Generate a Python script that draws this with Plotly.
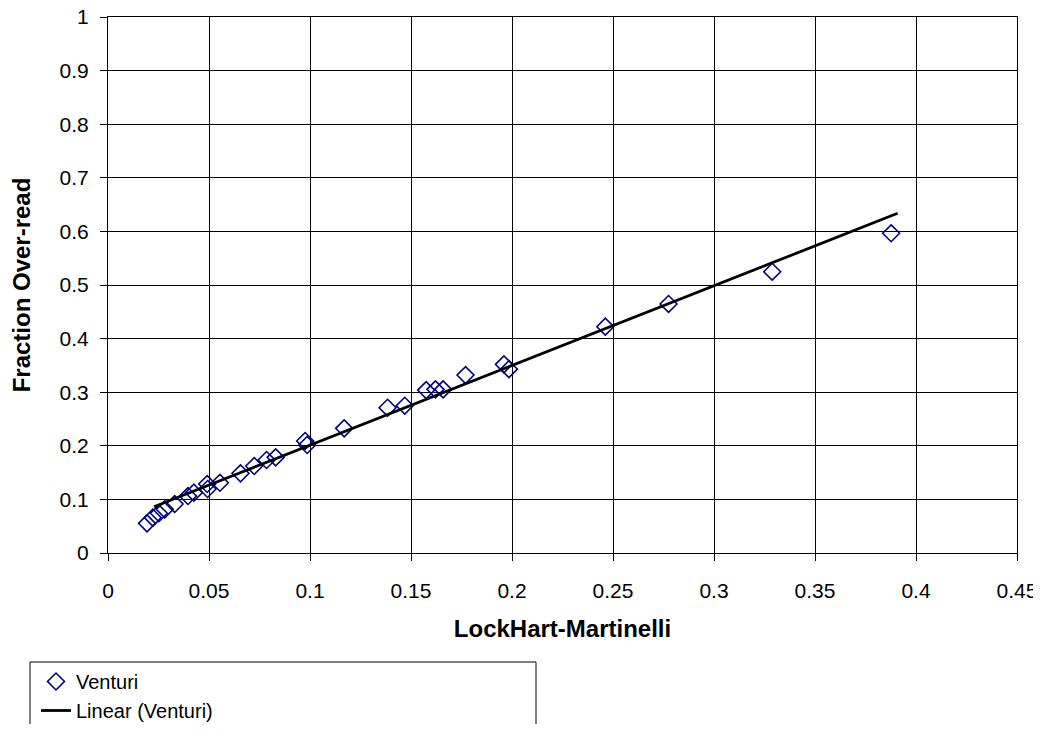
import plotly.graph_objects as go

# Data
lockhart_martinelli = [0.0193, 0.0222, 0.0252, 0.0281, 0.0330, 0.0396, 0.0425, 0.0491,
                       0.0493, 0.0554, 0.0656, 0.0724, 0.0785, 0.0830, 0.0976, 0.0986,
                       0.1169, 0.1384, 0.1469, 0.1575, 0.1621, 0.1659, 0.1770, 0.1960,
                       0.1985, 0.2462, 0.2775, 0.3288, 0.3877]
fraction_over_read = [0.0554, 0.0659, 0.0741, 0.0815, 0.0914, 0.1063, 0.1125, 0.1287,
                      0.1194, 0.1310, 0.1487, 0.1623, 0.1735, 0.1785, 0.2090, 0.2015,
                      0.2326, 0.2710, 0.2748, 0.3040, 0.3054, 0.3054, 0.3320, 0.3520,
                      0.3430, 0.4222, 0.4646, 0.5248, 0.5965]
# Linear trendline (as drawn in the reference)
trend_slope = 1.487
trend_intercept = 0.0525
trend_x = [0.0228, 0.3909]

x_ticks = [0, 0.05, 0.1, 0.15, 0.2, 0.25, 0.3, 0.35, 0.4, 0.45]
x_tick_labels = ["0", "0.05", "0.1", "0.15", "0.2", "0.25", "0.3", "0.35", "0.4", "0.45"]
y_ticks = [0, 0.1, 0.2, 0.3, 0.4, 0.5, 0.6, 0.7, 0.8, 0.9, 1]
y_tick_labels = ["0", "0.1", "0.2", "0.3", "0.4", "0.5", "0.6", "0.7", "0.8", "0.9", "1"]

trend_y = [trend_slope * v + trend_intercept for v in trend_x]

FONT = "Liberation Sans, Arial, sans-serif"

# page has an 8px body margin; figure coordinates = page coordinates - 8
W, H = 1032, 716
L, R, T, B = 100, 1009, 9, 545   # plot area in figure px
PW, PH = R - L, B - T

def px_x(page_x):
    return (page_x - 8 - L) / PW

def px_y(page_y):
    return (B - (page_y - 8)) / PH

def cont_y(page_y):
    return 1 - (page_y - 8) / H

fig = go.Figure()
fig.add_trace(go.Scatter(
    x=lockhart_martinelli, y=fraction_over_read, mode="markers", name="Venturi",
    marker=dict(symbol="diamond-open", size=13, color="#000080", line=dict(width=1.6, color="#000080")),
))
fig.add_trace(go.Scatter(
    x=trend_x, y=trend_y, mode="lines", name="Linear (Venturi)",
    line=dict(color="black", width=2.8),
))

axis_common = dict(
    showgrid=True, gridcolor="black", gridwidth=1,
    showline=True, linecolor="black", linewidth=1, mirror=True,
    ticks="outside", ticklen=7, tickcolor="black",
    tickfont=dict(family=FONT, size=21, color="black"),
    zeroline=False, ticklabeloverflow="allow", automargin=False,
)

fig.update_xaxes(range=[0, 0.45], tickvals=x_ticks, ticktext=x_tick_labels,
                 ticklabelstandoff=12,
                 title=dict(text="<b>LockHart-Martinelli</b>", font=dict(family=FONT, size=24, color="black"), standoff=18),
                 **axis_common)
fig.update_yaxes(range=[0, 1], tickvals=y_ticks, ticktext=y_tick_labels,
                 ticklabelstandoff=7,
                 title=dict(text="<b>Fraction Over-read</b>", font=dict(family=FONT, size=24, color="black"), standoff=22),
                 **axis_common)

# Legend box (extends below the visible page like the reference)
fig.add_shape(type="rect", xref="paper", yref="paper",
              x0=px_x(30), x1=px_x(536),
              y0=px_y(760), y1=px_y(662),
              line=dict(color="black", width=1), fillcolor="rgba(0,0,0,0)", layer="above")

fig.update_layout(
    width=W, height=H,
    margin=dict(l=L, r=W - R, t=T, b=H - B),
    paper_bgcolor="white", plot_bgcolor="white",
    font=dict(family=FONT, size=21, color="black"),
    showlegend=True,
    legend=dict(x=px_x(36), y=cont_y(662), xref="paper", yref="container",
                xanchor="left", yanchor="top", maxheight=200,
                bgcolor="rgba(0,0,0,0)", borderwidth=0,
                font=dict(family=FONT, size=20, color="black"),
                itemwidth=30, tracegroupgap=0),
)

fig.write_html("out.html")
